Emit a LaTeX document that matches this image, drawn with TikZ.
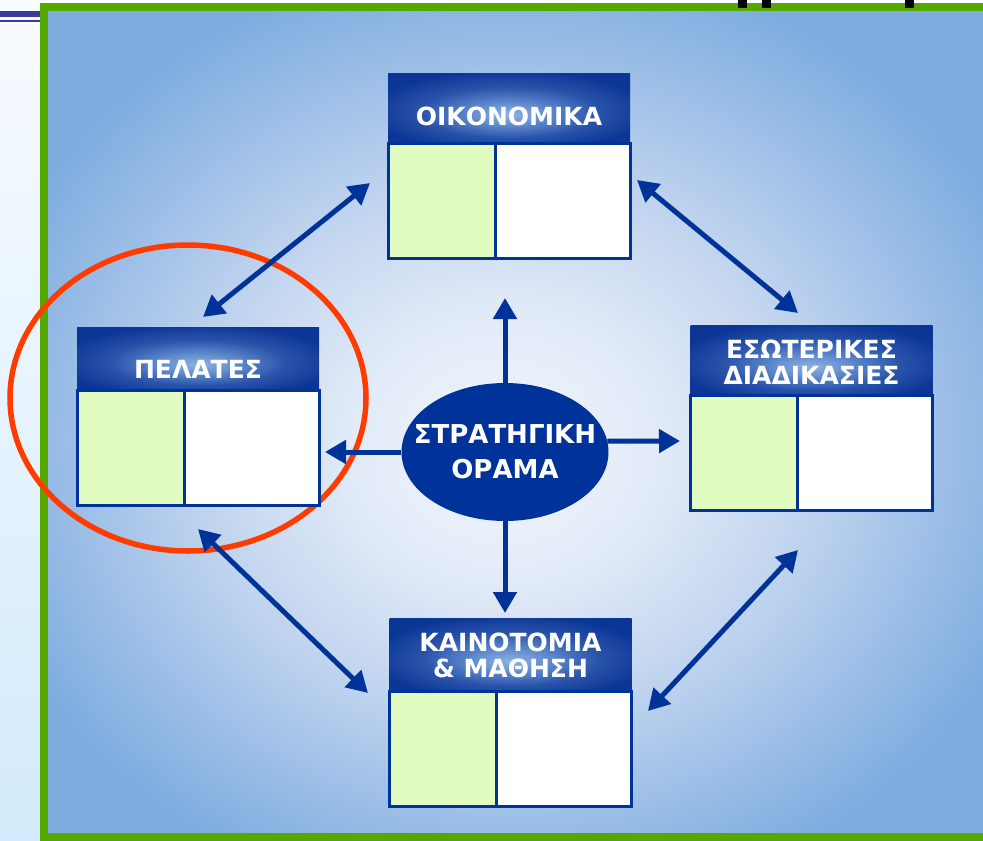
\documentclass[tikz,border=0pt]{standalone}
\usepackage{fontspec}
\setmainfont{DejaVu Sans}
\usetikzlibrary{arrows.meta,shapes.geometric,positioning}

\definecolor{bscblue}{HTML}{003399}
\definecolor{bscgreen}{HTML}{E0FCC0}
\definecolor{framegreen}{HTML}{55A800}
\definecolor{ringred}{HTML}{FF3C00}
\definecolor{barblue}{HTML}{3A3A98}
\definecolor{striptop}{HTML}{F8FBFF}
\definecolor{stripbot}{HTML}{D3EBFC}
\definecolor{pg0}{HTML}{F3F6FC}
\definecolor{pg1}{HTML}{E2EBF8}
\definecolor{pg2}{HTML}{C2D5EF}
\definecolor{pg3}{HTML}{9DBFE7}
\definecolor{pg4}{HTML}{7FADE0}
\definecolor{hd0}{HTML}{8DB3E2}
\definecolor{hd1}{HTML}{6690D0}
\definecolor{hd2}{HTML}{2A54AA}
\definecolor{hd3}{HTML}{0B3696}

\pgfdeclareradialshading{panelglow}{\pgfpoint{-1bp}{-2bp}}{color(0bp)=(pg0); color(8bp)=(pg1); color(16bp)=(pg2); color(23bp)=(pg3); color(29bp)=(pg4); color(50bp)=(pg4)}
\pgfdeclareradialshading{headglow}{\pgfpoint{0bp}{-5bp}}{color(0bp)=(hd0); color(7bp)=(hd1); color(18bp)=(hd2); color(29bp)=(hd3); color(50bp)=(hd3)}

\tikzset{
  head/.style={rectangle, shading=headglow, minimum width=242, inner sep=0, outer sep=0},
  cellg/.style={rectangle, draw=bscblue, line width=3, fill=bscgreen, minimum width=107, minimum height=115, inner sep=0, outer sep=0},
  cellw/.style={rectangle, draw=bscblue, line width=3, fill=white, minimum width=135, minimum height=115, inner sep=0, outer sep=0},
  title/.style={text=white, font=\bfseries\fontsize{25}{26}\selectfont, align=center, inner sep=0},
  link/.style={draw=bscblue, line width=5, -{Triangle[length=21pt,width=23pt]}},
  twoway/.style={draw=bscblue, line width=5, {Triangle[length=21pt,width=23pt]}-{Triangle[length=21pt,width=23pt]}},
  ring/.style={ellipse, draw=ringred, line width=5.5, minimum width=356, minimum height=306, inner sep=0}
}

\begin{document}
\begin{tikzpicture}[x=1pt, y=-1pt]
  \useasboundingbox (0,0) rectangle (983,841);
  \clip (0,0) rectangle (983,841);
  \fill[white] (0,0) rectangle (983,841);
  \shade[top color=striptop, bottom color=stripbot] (0,0) rectangle (40,841); % left strip
  \fill[barblue] (0,11) rectangle (40,17);
  \fill[barblue] (0,20) rectangle (40,22);
  \shade[shading=panelglow] (48,11) rectangle (990,833); % panel
  \draw[framegreen, line width=8] (44,7) rectangle (1000,837);
  % bits of the cut-off title
  \fill[black] (738,0) rectangle (747,8);
  \fill[black] (762,0) rectangle (771,8);
  \fill[black] (905,0) rectangle (914,8);

  \node[ring] (focus) at (188,398) {};

  % free arrow ends
  \coordinate (up) at (505,298);
  \coordinate (dn) at (505,613);
  \coordinate (lf) at (325,452);
  \coordinate (rt) at (680,441);
  \coordinate (nw1) at (203,317);
  \coordinate (nw2) at (370,183);
  \coordinate (ne1) at (637,180);
  \coordinate (ne2) at (798,313);
  \coordinate (sw1) at (198,529);
  \coordinate (sw2) at (368,693);
  \coordinate (se1) at (798,550);
  \coordinate (se2) at (648,711);

  \node[ellipse, fill=bscblue, minimum width=207, minimum height=138, inner sep=0] (vis) at (505,452) {};
  \draw[link] (vis.north) -- (up);
  \draw[link] (vis.south) -- (dn);
  \draw[link] (vis.west) -- (lf);
  \draw[link] (vis.6) -- (rt);
  \draw[twoway] (nw1) -- (nw2);
  \draw[twoway] (ne1) -- (ne2);
  \draw[twoway] (sw1) -- (sw2);
  \draw[twoway] (se1) -- (se2);
  \node[title, font=\bfseries\fontsize{26}{35}\selectfont] (vist) at (505,452) {ΣΤΡΑΤΗΓΙΚΗ\\ΟΡΑΜΑ};

  % top
  \node[head, minimum height=70] (oik) at (509,108) {};
  \node[cellg, anchor=north west] (oikg) at (oik.south west) {};
  \node[cellw, anchor=north west] (oikw) at (oikg.north east) {};
  \node[title] (oikt) at (509,116) {ΟΙΚΟΝΟΜΙΚΑ};

  % left
  \node[head, minimum height=63] (pel) at (198,358.5) {};
  \node[cellg, anchor=north west] (pelg) at (pel.south west) {};
  \node[cellw, anchor=north west] (pelw) at (pelg.north east) {};
  \node[title] (pelt) at (198,369.5) {ΠΕΛΑΤΕΣ};

  % right
  \node[head, minimum height=70] (eso) at (811.5,360) {};
  \node[cellg, anchor=north west] (esog) at (eso.south west) {};
  \node[cellw, anchor=north west] (esow) at (esog.north east) {};
  \node[title] (esot) at (811.5,362) {ΕΣΩΤΕΡΙΚΕΣ\\ΔΙΑΔΙΚΑΣΙΕΣ};

  % bottom
  \node[head, minimum height=73] (kai) at (510.5,654.5) {};
  \node[cellg, anchor=north west] (kaig) at (kai.south west) {};
  \node[cellw, anchor=north west] (kaiw) at (kaig.north east) {};
  \node[title] (kait) at (510.5,655) {ΚΑΙΝΟΤΟΜΙΑ\\\& ΜΑΘΗΣΗ};
\end{tikzpicture}
\end{document}
